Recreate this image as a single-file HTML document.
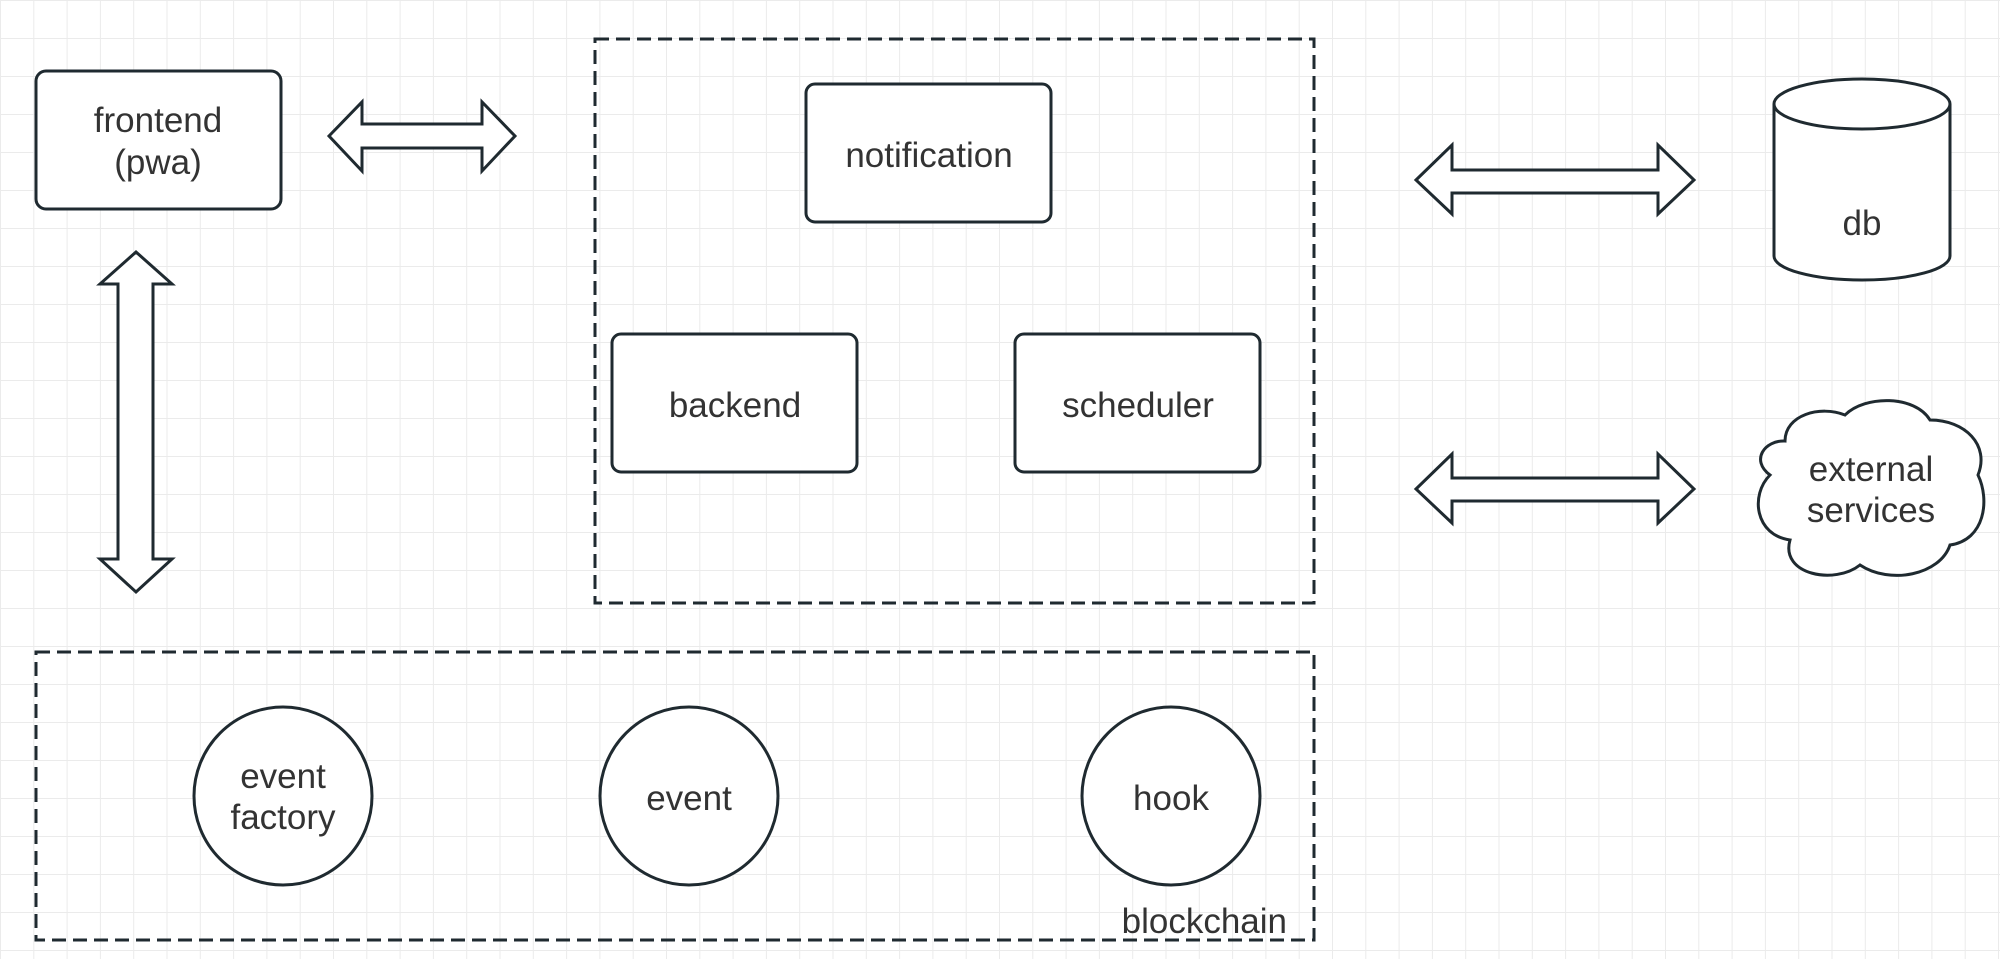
<!DOCTYPE html>
<html><head><meta charset="utf-8"><style>
html,body{margin:0;padding:0;background:#fff}
svg{display:block}
text{font-family:"Liberation Sans","DejaVu Sans",sans-serif;font-size:35px;fill:#333;text-anchor:middle}
</style></head><body>
<svg width="2000" height="959" viewBox="0 0 2000 959" xmlns="http://www.w3.org/2000/svg">
<defs>
<pattern id="g" width="33.3" height="38" patternUnits="userSpaceOnUse">
<path d="M0 0V38M0 0H33.3" stroke="#ebebeb" stroke-width="2" fill="none"/>
</pattern>
</defs>
<rect width="2000" height="959" fill="url(#g)"/>
<g stroke="#1f2a30" stroke-width="3" fill="#fff">
<rect x="36" y="71" width="245" height="138" rx="10"/>
<path d="M329 136 L362 102 L362 124 L482 124 L482 102 L515 136 L482 171 L482 148 L362 148 L362 171 Z"/>
<path d="M136 252 L172 284 L153 284 L153 559 L172 559 L136 592 L100 559 L118 559 L118 284 L100 284 Z"/>
<rect x="595" y="39" width="719" height="564" fill="none" stroke-dasharray="14 7"/>
<rect x="806" y="84" width="245" height="138" rx="9"/>
<rect x="612" y="334" width="245" height="138" rx="9"/>
<rect x="1015" y="334" width="245" height="138" rx="9"/>
<path d="M1416 180 L1452 145 L1452 170 L1658 170 L1658 145 L1694 180 L1658 214 L1658 193 L1452 193 L1452 214 Z"/>
<path d="M1416 489 L1452 454 L1452 478 L1658 478 L1658 454 L1694 489 L1658 523 L1658 501 L1452 501 L1452 523 Z"/>
<path d="M1774 104 L1774 256 A88 24 0 0 0 1950 256 L1950 104"/>
<ellipse cx="1862" cy="104" rx="88" ry="25"/>
<path d="M1785 441 C1785 415 1820 405 1845 415 C1865 395 1915 395 1930 420 C1965 420 1990 445 1978 475 C1990 500 1985 540 1950 545 C1940 575 1890 585 1860 565 C1835 585 1780 575 1790 540 C1755 535 1750 495 1770 475 C1750 460 1765 440 1785 441 Z"/>
<rect x="36" y="652" width="1278" height="288" fill="none" stroke-dasharray="14 7"/>
<circle cx="283" cy="796" r="89"/>
<circle cx="689" cy="796" r="89"/>
<circle cx="1171" cy="796" r="89"/>
</g>
<text x="158" y="132">frontend</text>
<text x="158" y="174">(pwa)</text>
<text x="929" y="167">notification</text>
<text x="735" y="417">backend</text>
<text x="1138" y="417">scheduler</text>
<text x="1862" y="235">db</text>
<text x="1871" y="481">external</text>
<text x="1871" y="522">services</text>
<text x="283" y="788">event</text>
<text x="283" y="829">factory</text>
<text x="689" y="810">event</text>
<text x="1171" y="810">hook</text>
<text x="1287" y="933" style="text-anchor:end">blockchain</text>
</svg>
</body></html>
